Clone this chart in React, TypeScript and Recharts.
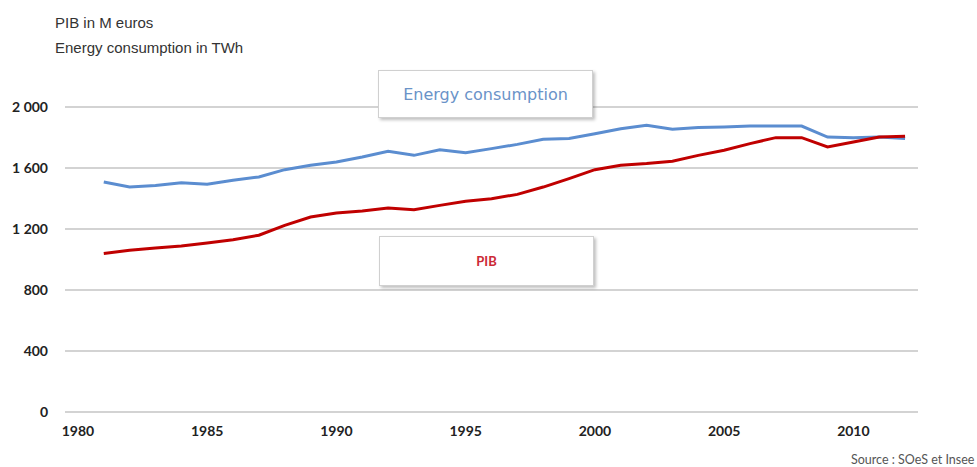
import React from "react";
import { LineChart, Line, XAxis, YAxis, CartesianGrid } from "recharts";

const YEARS = [
  1981, 1982, 1983, 1984, 1985, 1986, 1987, 1988, 1989, 1990, 1991, 1992, 1993, 1994, 1995, 1996,
  1997, 1998, 1999, 2000, 2001, 2002, 2003, 2004, 2005, 2006, 2007, 2008, 2009, 2010, 2011, 2012,
];
const ENERGY = [
  1508, 1475, 1486, 1504, 1493, 1520, 1541, 1589, 1618, 1640, 1672, 1709, 1683, 1720, 1700, 1727,
  1755, 1788, 1793, 1825, 1858, 1880, 1854, 1865, 1869, 1875, 1875, 1875, 1803, 1799, 1803, 1793,
];
const PIB = [
  1039, 1060, 1075, 1089, 1108, 1130, 1159, 1224, 1279, 1305, 1318, 1338, 1327, 1355, 1382, 1399,
  1427, 1475, 1530, 1589, 1618, 1629, 1644, 1683, 1716, 1760, 1799, 1799, 1738, 1770, 1803, 1808,
];
const X_TICKS = [1980, 1985, 1990, 1995, 2000, 2005, 2010];
const Y_TICKS = [0, 400, 800, 1200, 1600, 2000];

const data = YEARS.map((year, i) => ({ year, energy: ENERGY[i], pib: PIB[i] }));

const fmtY = (v: number) => (v >= 1000 ? `${Math.floor(v / 1000)} ${String(v % 1000).padStart(3, "0")}` : String(v));

const tickStyle = { fontFamily: "Lato", fontWeight: 700, fontSize: 14, fill: "#222" };

const boxStyle: React.CSSProperties = {
  position: "absolute",
  background: "#fff",
  border: "1px solid #d0d0d0",
  boxShadow: "2px 2px 3px rgba(0,0,0,0.25)",
  display: "flex",
  alignItems: "center",
  justifyContent: "center",
};

export default function App() {
  return (
    <div style={{ position: "absolute", left: 0, top: 0, width: 977, height: 467, background: "#fff" }}>
      <div
        style={{
          position: "absolute",
          left: 55,
          top: 10,
          fontFamily: "Liberation Sans",
          fontSize: 15,
          lineHeight: "25px",
          color: "#333",
        }}
      >
        <div>PIB in M euros</div>
        <div>Energy consumption in TWh</div>
      </div>
      <LineChart width={977} height={467} data={data} margin={{ top: 107, right: 59, left: 0, bottom: 25 }}>
        <CartesianGrid vertical={false} stroke="#c4c4c4" strokeWidth={1.5} />
        <XAxis
          dataKey="year"
          type="number"
          domain={[1979.5, 2012.5]}
          ticks={X_TICKS}
          axisLine={false}
          tickLine={false}
          tickSize={0}
          tickMargin={14}
          height={30}
          tick={tickStyle}
          interval={0}
        />
        <YAxis
          domain={[0, 2000]}
          ticks={Y_TICKS}
          tickFormatter={fmtY}
          axisLine={false}
          tickLine={false}
          tickSize={0}
          tickMargin={17}
          width={65}
          tick={tickStyle}
          interval={0}
        />
        <Line type="linear" dataKey="energy" stroke="#5b8dd0" strokeWidth={3} dot={false} isAnimationActive={false} />
        <Line type="linear" dataKey="pib" stroke="#c00000" strokeWidth={3} dot={false} isAnimationActive={false} />
      </LineChart>
      <div style={{ ...boxStyle, left: 378, top: 70, width: 213, height: 46 }}>
        <span style={{ fontFamily: "DejaVu Sans", fontSize: 16, color: "#6a93c8" }}>Energy consumption</span>
      </div>
      <div style={{ ...boxStyle, left: 379, top: 236, width: 213, height: 48 }}>
        <span style={{ fontFamily: "Lato", fontWeight: 700, fontSize: 13, color: "#cc2a36" }}>PIB</span>
      </div>
      <div
        style={{
          position: "absolute",
          left: 851,
          top: 452,
          fontFamily: "Lato",
          fontSize: 12.5,
          color: "#555",
          whiteSpace: "nowrap",
        }}
      >
        Source : SOeS et Insee
      </div>
    </div>
  );
}
